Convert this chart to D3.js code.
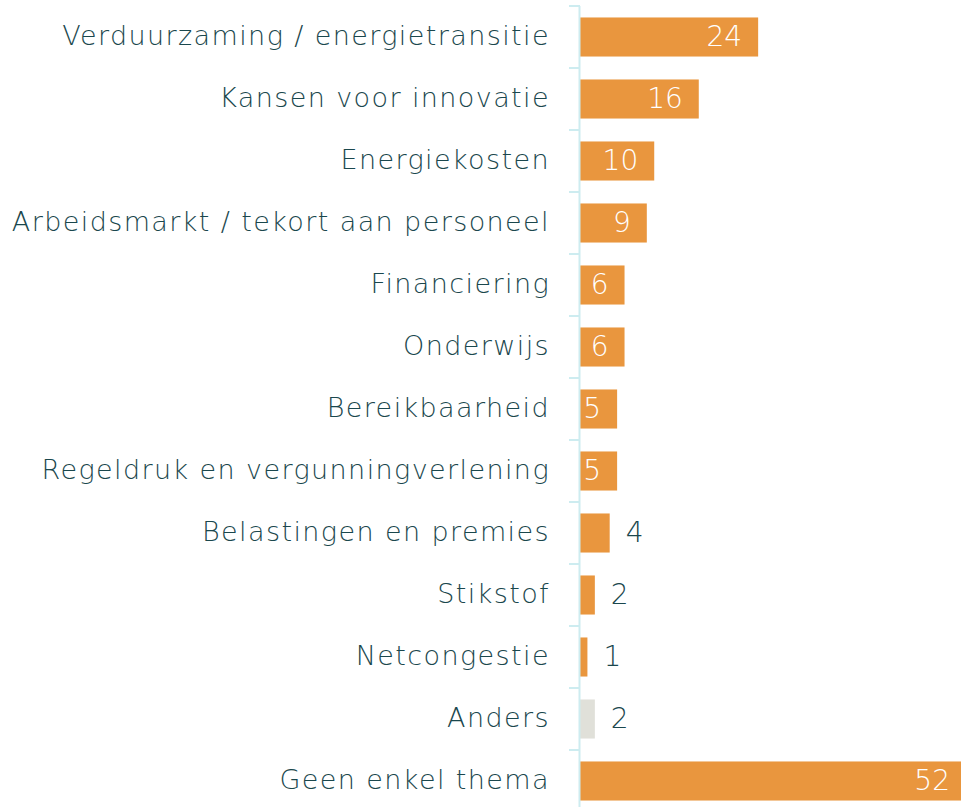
<!DOCTYPE html>
<html>
<head>
<meta charset="utf-8">
<script src="https://cdn.jsdelivr.net/npm/d3@7"></script>
<style>
  body { margin: 0; background: #fff; }
  svg text { font-family: "DejaVu Sans", sans-serif; font-weight: 200; }
</style>
</head>
<body>
<div id="chart"></div>
<script>
/* data */
var categories = ["Verduurzaming / energietransitie", "Kansen voor innovatie", "Energiekosten",
  "Arbeidsmarkt / tekort aan personeel", "Financiering", "Onderwijs", "Bereikbaarheid",
  "Regeldruk en vergunningverlening", "Belastingen en premies", "Stikstof", "Netcongestie",
  "Anders", "Geen enkel thema"];
var values = [24, 16, 10, 9, 6, 6, 5, 5, 4, 2, 1, 2, 52];
var greyCats = ["Anders"];

var width = 961, height = 807;
var axisX = 580;

var svg = d3.select("#chart").append("svg")
  .attr("width", width)
  .attr("height", height);

var x = d3.scaleLinear().domain([0, 52]).range([axisX, axisX + 386]);
var y = d3.scaleBand().domain(categories).range([6, 812])
  .paddingInner(0.37).paddingOuter(0.185);

var data = categories.map(function(c, i) { return {cat: c, val: values[i]}; });
var gap = (y.step() - y.bandwidth()) / 2;

/*bars*/
svg.selectAll(".bar").data(data).enter().append("rect")
  .attr("class", "bar")
  .attr("x", x(0))
  .attr("y", function(d) { return y(d.cat); })
  .attr("width", function(d) { return x(d.val) - x(0); })
  .attr("height", y.bandwidth())
  .style("fill", function(d) { return greyCats.indexOf(d.cat) > -1 ? "#e0e0d9" : "#e9963e"; });

/*axis line + band ticks*/
svg.append("line")
  .attr("x1", axisX - 0.5).attr("x2", axisX - 0.5)
  .attr("y1", y.range()[0]).attr("y2", height)
  .style("stroke", "#cdecf0").style("stroke-width", 2);

svg.selectAll(".tick").data(categories).enter().append("line")
  .attr("class", "tick")
  .attr("x1", axisX - 11).attr("x2", axisX)
  .attr("y1", function(d) { return y(d) - gap; })
  .attr("y2", function(d) { return y(d) - gap; })
  .style("stroke", "#cdecf0").style("stroke-width", 2);

/*category labels*/
svg.selectAll(".label").data(data).enter().append("text")
  .attr("class", "label")
  .attr("text-anchor", "end")
  .attr("x", axisX - 30)
  .attr("y", function(d) { return y(d.cat) + y.bandwidth() / 2; })
  .attr("dy", "0.28em")
  .style("font-size", "27px")
  .style("letter-spacing", "1.4px")
  .style("fill", "#1a474d")
  .text(function(d) { return d.cat; });

/*value labels*/
svg.selectAll(".value").data(data).enter().append("text")
  .attr("class", "value")
  .attr("text-anchor", function(d) { return d.val >= 5 ? "end" : "start"; })
  .attr("x", function(d) { return d.val >= 5 ? x(d.val) - 16 : x(d.val) + 16; })
  .attr("y", function(d) { return y(d.cat) + y.bandwidth() / 2; })
  .attr("dy", "0.33em")
  .style("font-size", "28px")
  .style("fill", function(d) { return d.val >= 5 ? "#ffffff" : "#1a474d"; })
  .text(function(d) { return d.val; });
</script>
</body>
</html>
